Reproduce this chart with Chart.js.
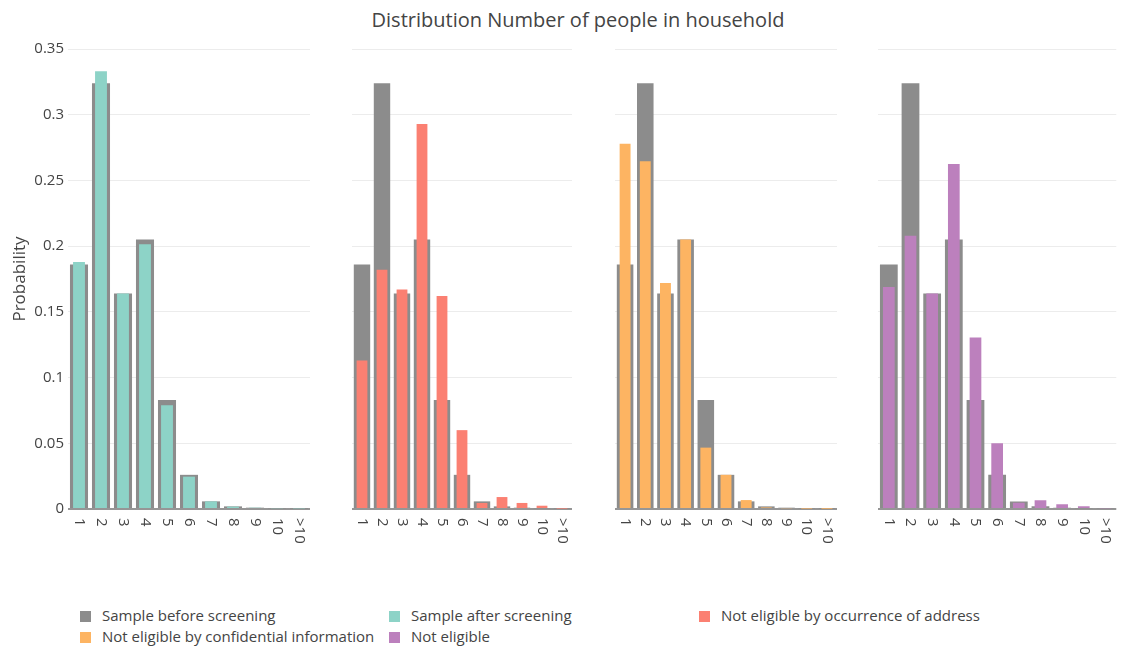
<!DOCTYPE html>
<html>
<head>
<meta charset="utf-8">
<title>Distribution Number of people in household</title>
<script src="https://cdn.jsdelivr.net/npm/chart.js@4.4.0/dist/chart.umd.min.js"></script>
<style>
  body { margin: 0; background: #fff; font-family: "Open Sans", Verdana, Arial, sans-serif; color: #444; }
  #wrap { position: relative; width: 1123px; height: 648px; overflow: hidden; }
  #wrap canvas { position: absolute; top: 0; }
  #title { position: absolute; left: 0; width: 1156px; top: 6px; text-align: center; font-size: 20px; }
  .leg { position: absolute; font-size: 15px; white-space: nowrap; line-height: 16px; }
  .leg i { display: inline-block; width: 11px; height: 11px; margin-right: 11px; vertical-align: -1px; }
</style>
</head>
<body>
<div id="wrap">
  <div id="title">Distribution Number of people in household</div>
  <canvas id="c1" width="320" height="560" style="left:0px"></canvas>
  <canvas id="c2" width="240" height="560" style="left:340px"></canvas>
  <canvas id="c3" width="245" height="560" style="left:600px"></canvas>
  <canvas id="c4" width="263" height="560" style="left:860px"></canvas>
  <div id="legend"></div>
</div>

<script>
// household size categories
var sizes = ['1', '2', '3', '4', '5', '6', '7', '8', '9', '10', '>10'];

// probability per household size for each group
var beforeScreening = [0.186, 0.324, 0.164, 0.205, 0.083, 0.026, 0.0058, 0.0020, 0.0010, 0.0004, 0.0003];
var afterScreening  = [0.188, 0.333, 0.164, 0.2015, 0.079, 0.0246, 0.0058, 0.0018, 0.0010, 0.0006, 0.0005];
var notEligAddress  = [0.113, 0.182, 0.167, 0.293, 0.162, 0.060, 0.0046, 0.0091, 0.0046, 0.0025, 0.0003];
var notEligConfid   = [0.278, 0.2645, 0.172, 0.205, 0.0467, 0.026, 0.0068, 0.0012, 0.0006, 0.0003, 0.0002];
var notEligible     = [0.169, 0.208, 0.164, 0.2625, 0.1305, 0.050, 0.0048, 0.0066, 0.0036, 0.0020, 0.0005];

var yTicks = [0, 0.05, 0.1, 0.15, 0.2, 0.25, 0.3, 0.35];

var grey = 'rgb(140,140,140)';
var textCol = '#444';
var font = '"Open Sans", Verdana, Arial, sans-serif';

var seriesNames = ['Sample before screening', 'Sample after screening', 'Not eligible by occurrence of address',
                   'Not eligible by confidential information', 'Not eligible'];
var seriesColors = [grey, 'rgb(141,211,199)', 'rgb(251,128,114)', 'rgb(253,180,98)', 'rgb(188,128,189)'];

// x labels turned clockwise, drawn at the category positions of the x scale
var rotatedLabels = {
  id: 'rotatedLabels',
  afterDraw: function(chart) {
    var sc = chart.scales.x;
    var ctx = chart.ctx;
    ctx.save();
    ctx.fillStyle = textCol;
    ctx.font = '15px ' + font;
    ctx.textAlign = 'left';
    ctx.textBaseline = 'middle';
    for (var i = 0; i < sc.ticks.length; i++) {
      var x = sc.getPixelForTick(i);
      ctx.save();
      ctx.translate(x, sc.top + 9);
      ctx.rotate(Math.PI / 2);
      ctx.fillText(sizes[i], 0, 0);
      ctx.restore();
    }
    ctx.restore();
  }
};

function makePanel(id, data, color, yWidth, padRight, showY) {
  return new Chart(document.getElementById(id), {
    type: 'bar',
    data: {
      labels: sizes,
      datasets: [{
        label: 'group',
        data: data,
        backgroundColor: color,
        borderWidth: 0,
        grouped: false,
        barPercentage: 0.54,
        categoryPercentage: 1
      }, {
        label: 'before',
        data: beforeScreening,
        backgroundColor: grey,
        borderWidth: 0,
        grouped: false,
        barPercentage: 0.82,
        categoryPercentage: 1
      }]
    },
    options: {
      responsive: false,
      animation: false,
      devicePixelRatio: 1,
      layout: { padding: { top: 49, right: padRight, bottom: 0, left: 0 } },
      plugins: { legend: { display: false }, tooltip: { enabled: false } },
      scales: {
        x: {
          grid: { display: false },
          border: { display: false },
          ticks: { color: 'rgba(0,0,0,0)', autoSkip: false, minRotation: 90, maxRotation: 90 },
          afterFit: function(s) { s.height = 51; }
        },
        y: {
          min: 0,
          max: 0.35,
          afterBuildTicks: function(s) { s.ticks = yTicks.map(function(v) { return { value: v }; }); },
          grid: {
            drawTicks: false,
            color: function(c) { return c.tick.value === 0 ? 'rgb(150,150,150)' : '#ececec'; },
            lineWidth: function(c) { return c.tick.value === 0 ? 2 : 1; }
          },
          border: { display: false },
          ticks: {
            display: showY,
            color: textCol,
            font: { size: 15, family: font },
            padding: 4,
            callback: function(v) { return String(Math.round(v * 100) / 100); }
          },
          title: {
            display: showY,
            text: 'Probability',
            color: textCol,
            font: { size: 17, family: font },
            padding: { top: 10, bottom: 0 }
          },
          afterFit: function(s) { s.width = yWidth; }
        }
      }
    },
    plugins: [rotatedLabels]
  });
}

makePanel('c1', afterScreening, seriesColors[1], 68, 10, true);
makePanel('c2', notEligAddress, seriesColors[2], 12, 8, false);
makePanel('c3', notEligConfid, seriesColors[3], 15, 8, false);
makePanel('c4', notEligible, seriesColors[4], 18, 3, false);

// legend below the panels
var legPos = [[80, 607], [389, 607], [699, 607], [80, 628], [389, 628]];
var legend = document.getElementById('legend');
for (var k = 0; k < seriesNames.length; k++) {
  var d = document.createElement('div');
  d.className = 'leg';
  d.style.left = legPos[k][0] + 'px';
  d.style.top = legPos[k][1] + 'px';
  d.innerHTML = '<i style="background:' + seriesColors[k] + '"></i>' + seriesNames[k];
  legend.appendChild(d);
}
</script>
</body>
</html>
